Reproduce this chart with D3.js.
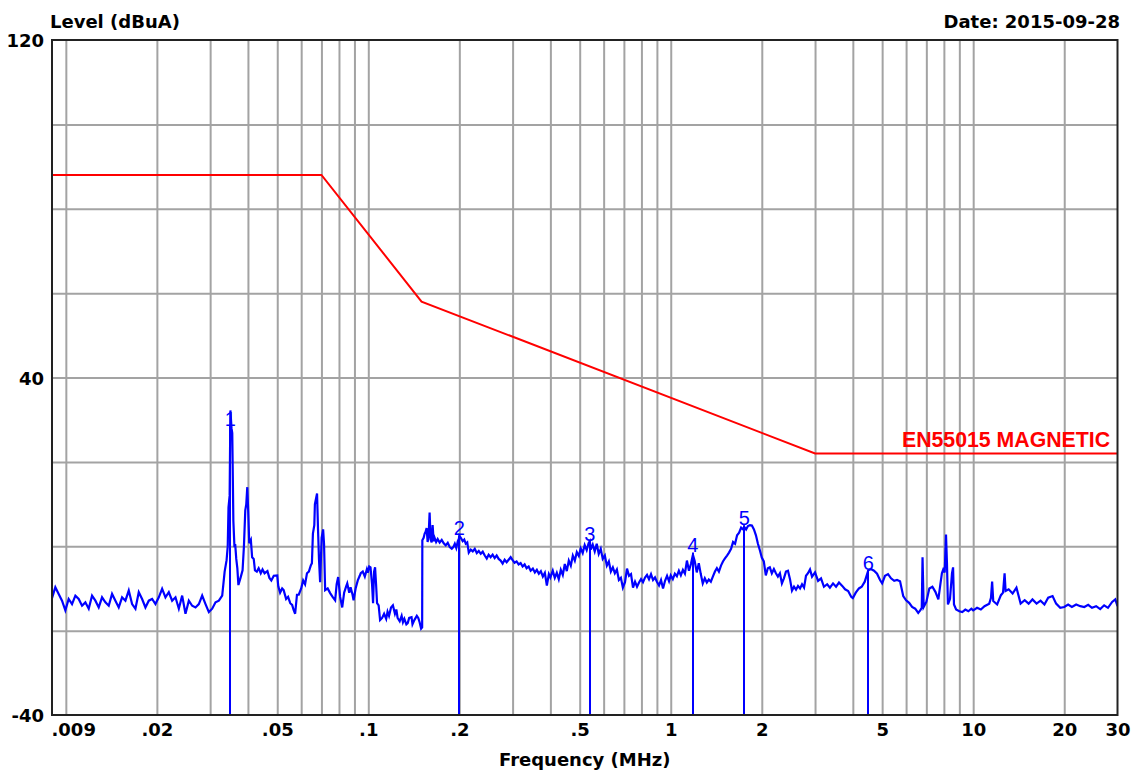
<!DOCTYPE html>
<html><head><meta charset="utf-8">
<script src="https://cdn.jsdelivr.net/npm/d3@7"></script>
<style>body{margin:0;background:#fff}svg{display:block}</style>
</head><body><svg id="c" width="1138" height="772"></svg>
<script>
// ---- data ----
const trace = [
[0.009,-12.3],[0.009232,-9.7],[0.009469,-11.3],[0.009713,-12.9],[0.009963,-15.2],[0.010219,-12.5],[0.010482,-13.7],[0.010752,-11.7],[0.011028,-12.5],[0.011312,-14.1],[0.011603,-13.3],[0.011902,-14.8],[0.012208,-11.7],[0.012522,-12.9],[0.012844,-14.5],[0.013175,-12.1],[0.013514,-13.3],[0.013862,-14.1],[0.014218,-11.3],[0.014584,-12.9],[0.014959,-14.5],[0.015344,-12.1],[0.015739,-12.9],[0.016144,-10.5],[0.01656,-13.7],[0.016986,-14.8],[0.017423,-10.9],[0.017871,-12.5],[0.018331,-14.5],[0.018803,-12.9],[0.019287,-12.5],[0.019783,-13.7],[0.020292,-12.1],[0.020814,-10.1],[0.02135,-12.1],[0.021899,-10.9],[0.022463,-12.9],[0.023041,-12.1],[0.023634,-14.8],[0.024242,-11.7],[0.024866,-16.0],[0.025506,-12.9],[0.026162,-14.1],[0.026836,-14.5],[0.027526,-13.7],[0.028235,-11.7],[0.028961,-13.7],[0.029707,-15.6],[0.030471,-14.8],[0.031255,-13.3],[0.03206,-12.9],[0.032885,-11.7],
[0.0335,-6],[0.0340,-3.3],[0.0343,0],[0.0345,9.2],[0.0348,12],[0.0350,32.2],[0.0353,28],[0.0355,26.8],[0.0358,6],[0.0361,-0.2],[0.0363,0.5],[0.0366,-3],[0.0369,-5.2],[0.0372,-9.2],[0.0378,-7.5],[0.0384,-5.7],[0.0388,0],[0.0392,8.5],[0.0395,10],[0.0398,14],[0.0401,8],[0.0404,0.7],[0.0409,1.5],[0.0413,-2.6],[0.0418,-3],[0.0422,-5.7],[0.0428,-6],[0.0434,-5.2],[0.0441,-6.4],[0.0447,-5.5],[0.0454,-6.4],[0.0464,-5.9],[0.0471,-7.5],[0.0478,-8.1],[0.0487,-7],[0.0500,-6.9],[0.0504,-9.5],[0.0511,-11],[0.0519,-10],[0.0525,-10.4],[0.0535,-12.5],[0.0543,-12],[0.0552,-13.5],[0.0560,-13.9],[0.0566,-15],[0.0573,-16],[0.0581,-11.5],[0.0589,-11.5],[0.0600,-10],[0.0609,-8.1],[0.0618,-9],[0.0627,-6.4],[0.0636,-6],[0.0646,-4.5],[0.0651,-4],[0.0656,3],[0.0663,5],[0.0666,10],[0.0677,12.5],[0.0682,4],[0.0687,-3],[0.0693,-8.5],[0.0701,2],[0.0709,4],[0.0714,0.5],[0.0720,-10.4],[0.0734,-10],[0.0748,-11.1],[0.0762,-12],[0.0777,-12.8],[0.0786,-9],[0.0795,-7.3],[0.0807,-12],[0.0820,-14.5],[0.0832,-11],[0.0845,-9.5],[0.0852,-8.8],[0.0865,-11],[0.0874,-9.7],[0.0887,-11.5],[0.0894,-12.8],[0.0908,-10],[0.0923,-8.1],[0.0937,-7],[0.0944,-6.4],[0.0959,-6],[0.0974,-7.2],[0.0989,-5.5],[0.0996,-6.3],[0.1007,-4.8],[0.1017,-5],[0.1029,-9],[0.1037,-13.5],[0.1045,-6],[0.1053,-5],[0.1061,-9],[0.1069,-13.5],[0.1082,-14],[0.1094,-17.5],[0.1111,-17],[0.1128,-16],[0.1146,-17.2],[0.1158,-15.5],[0.1171,-16.5],[0.1189,-14.5],[0.1206,-14],[0.1225,-16],[0.1238,-15],[0.1250,-17],[0.1270,-17.8],[0.1289,-16.5],[0.1302,-18],[0.1316,-17.2],[0.1336,-18.5],[0.1350,-18.2],[0.1365,-17],[0.139,-16.8],[0.140,-18.5],[0.142,-17.5],[0.1447,-16.5],[0.1463,-17],[0.1478,-18],[0.1495,-19.5],[0.1507,-19.2],
[0.1509,1.4],[0.1524,2],[0.1536,3],[0.1547,3.4],[0.1559,4.3],[0.1571,1.0],[0.1583,2.6],[0.1595,8.0],[0.1607,1.6],[0.162,0.9],[0.1632,5.0],[0.1645,1.2],[0.1657,2.0],[0.1676,1.0],[0.1696,1.7],[0.1722,0.9],[0.1749,1.5],[0.1776,0.7],[0.1803,0.2],[0.1831,0.8],[0.1859,-0.2],[0.1888,-0.6],[0.191,-0.2],[0.1932,0.6],[0.1954,-0.4],[0.1977,1.2],[0.1992,1.7],[0.2,2.5],
[0.203,1.8],[0.2052,1.2],[0.2076,1.6],[0.21,0.6],[0.2124,0.9],[0.2149,-1.5],[0.2182,-0.8],[0.2215,-1.2],[0.2249,-0.6],[0.2284,-1.6],[0.2319,-1.1],[0.2354,-1.8],[0.239,-1.3],[0.2427,-2.2],[0.2464,-2.9],[0.25,-2.0],[0.2538,-2.6],[0.2577,-2.0],[0.2617,-2.8],[0.2657,-2.2],[0.2698,-3.0],[0.2739,-3.4],[0.2781,-4.1],[0.2824,-3.2],[0.2867,-3.8],[0.2911,-3.2],[0.2956,-2.6],[0.3,-3.3],[0.3046,-3.9],[0.3093,-3.6],[0.3141,-4.3],[0.3189,-4.0],[0.3238,-4.8],[0.3288,-4.3],[0.3338,-5.2],[0.339,-4.8],[0.3442,-5.8],[0.35,-5.3],[0.3554,-6.2],[0.3608,-5.6],[0.3664,-6.5],[0.372,-5.9],[0.3777,-7.2],[0.3835,-6.3],[0.3894,-9.3],[0.3954,-6.6],[0.4,-7.4],[0.4073,-5.8],[0.4136,-7.5],[0.42,-6.3],[0.4264,-7.8],[0.433,-5.6],[0.4396,-6.8],[0.4464,-4.2],[0.4532,-5.9],[0.4602,-3.4],[0.4673,-4.6],[0.4745,-2.2],[0.4818,-3.4],[0.4892,-1.4],[0.4968,-2.3],[0.5038,-0.5],[0.5116,-1.6],[0.5194,0.3],[0.5274,-0.9],[0.5355,0.8],[0.54,1.2],[0.5437,-0.8],[0.5521,0.4],[0.5606,-1.2],[0.5692,0.6],[0.578,-1.8],[0.5869,-0.6],[0.5959,-3.0],[0.6055,-2.2],[0.6148,-4.6],[0.6243,-3.6],[0.6339,-6.0],[0.6436,-5.0],[0.6535,-6.4],[0.6636,-5.5],[0.6738,-8.0],[0.6841,-7.5],[0.6946,-9.8],[0.7059,-8.5],[0.7168,-5.3],[0.7278,-7.0],[0.739,-6.6],[0.7503,-9.8],[0.7619,-8.4],[0.7736,-9.6],[0.7855,-8.6],[0.7976,-7.8],[0.8096,-8.5],[0.8221,-7.4],[0.8347,-6.8],[0.8475,-7.8],[0.8606,-6.6],[0.8738,-8.0],[0.8872,-7.4],[0.9,-8.4],[0.9147,-9.3],[0.9288,-8.0],[0.943,-10.0],[0.9575,-8.2],[0.9723,-7.0],[0.9872,-8.3],[1.0,-6.9],[1.016,-7.8],[1.032,-6.5],[1.048,-7.1],[1.064,-5.8],[1.08,-6.9],[1.097,-5.6],[1.114,-6.5],[1.131,-3.4],[1.149,-5.8],[1.166,-4.2],[1.184,-2.0],[1.2,-3.5],[1.219,-6.2],[1.238,-4.0],[1.257,-6.6],[1.276,-8.8],[1.296,-7.6],[1.316,-8.6],[1.336,-7.9],[1.357,-8.4],[1.378,-7.2],[1.4,-6.0],[1.421,-5.2],[1.443,-6.0],[1.466,-4.6],[1.488,-3.6],[1.511,-2.9],[1.535,-2.2],[1.558,-1.5],[1.583,-0.6],[1.607,1.0],[1.632,0.6],[1.657,2.6],[1.683,3.2],[1.709,4.4],[1.735,4.0],[1.75,4.6],[1.775,4.0],[1.8,4.8],[1.827,5.0],[1.855,4.9],[1.884,4.0],[1.913,2.6],[1.942,0.6],[1.972,-1.0],[2.0,-2.7],[2.031,-3.6],[2.062,-6.9],[2.094,-5.2],[2.126,-5.0],[2.159,-6.4],[2.193,-5.4],[2.227,-6.4],[2.261,-7.2],[2.296,-6.4],[2.331,-8.8],[2.367,-7.6],[2.404,-6.0],[2.441,-5.8],[2.479,-7.8],[2.517,-10.5],[2.556,-9.6],[2.595,-10.3],[2.635,-9.4],[2.676,-10.0],[2.717,-9.0],[2.759,-9.8],[2.8,-7.0],[2.843,-6.4],[2.887,-5.5],[2.932,-7.2],[3.0,-6.2],[3.07,-8.2],[3.14,-7.6],[3.21,-9.6],[3.29,-9.0],[3.36,-9.8],[3.44,-8.8],[3.52,-9.6],[3.6,-8.6],[3.69,-9.4],[3.77,-10.2],[3.86,-10.6],[3.95,-12.0],[4.0,-12.3],[4.09,-11.0],[4.19,-10.0],[4.28,-9.6],[4.38,-8.4],[4.5,-5.7],[4.59,-5.4],[4.7,-5.8],[4.81,-6.5],[4.92,-8.0],[5.0,-8.8],[5.11,-7.0],[5.23,-6.6],[5.35,-7.6],[5.48,-8.2],[5.6,-8.0],[5.73,-8.3],[5.87,-11.8],[6.0,-12.8],[6.14,-13.4],[6.28,-14.4],[6.43,-14.8],[6.58,-15.8],[6.68,-15.2],[6.76,-14.6],[6.8,-2.6],[6.86,-14.4],[7.0,-13.2],[7.16,-10.0],[7.33,-9.6],[7.5,-10.8],[7.67,-12.6],[7.79,-9.0],[7.88,-6.4],[7.96,-5.5],[8.05,-6.2],[8.13,2.8],[8.19,-4.0],[8.25,-13.8],[8.38,-12.5],[8.51,-6.4],[8.58,-5.0],[8.64,-13.8],[8.78,-15.0],[9.0,-15.4],[9.2,-15.6],[9.42,-15.0],[9.64,-15.4],[9.86,-14.8],[10,-15.2],[10.3,-14.6],[10.6,-15.0],[10.9,-14.2],[11.3,-13.6],[11.45,-12.2],[11.55,-8.4],[11.65,-13.0],[12,-13.8],[12.35,-11.6],[12.55,-11.0],[12.7,-6.4],[12.8,-10.6],[13.1,-10.2],[13.5,-11.2],[13.9,-9.8],[14.35,-13.6],[14.8,-12.8],[15.25,-13.6],[15.7,-12.6],[16.2,-13.6],[16.7,-12.9],[17.2,-13.8],[17.7,-12.2],[18.3,-11.8],[18.8,-13.6],[19.4,-14.6],[20,-14.4],[20.6,-13.8],[21.2,-14.4],[21.9,-13.8],[22.6,-14.2],[23.3,-14.4],[24,-13.9],[24.7,-14.6],[25.5,-14.2],[26.3,-14.9],[27.1,-14.0],[27.9,-14.6],[28.8,-13.2],[29.5,-12.6],[30,-14.2]
];
const limitFreq  = [0.009, 0.07, 0.15, 3, 30];
const limitLevel = [88, 88, 58, 22, 22];
const limitName  = "EN55015 MAGNETIC";
const markerNames = ["1","2","3","4","5","6"];
const markerFreq  = [0.035, 0.2, 0.54, 1.184, 1.75, 4.5];
const markerLevel = [28.5, 2.5, 1.2, -1.5, 5.0, -5.7];
const xGrid = [0.01,0.02,0.03,0.04,0.05,0.06,0.07,0.08,0.09,0.1,0.2,0.3,0.4,0.5,0.6,0.7,0.8,0.9,1,2,3,4,5,6,7,8,9,10,20];
const yGrid = [-20,0,20,40,60,80,100];
const xTicks = [0.009,0.02,0.05,0.1,0.2,0.5,1,2,5,10,20,30];
const xTickLabels = [".009",".02",".05",".1",".2",".5","1","2","5","10","20","30"];
const yTicks = [120,40,-40];
const yTickLabels = ["120","40","-40"];
const yTitle = "Level (dBuA)";
const xTitle = "Frequency (MHz)";
const dateText = "Date: 2015-09-28";

// ---- chart ----
const svg = d3.select("#c");
const L = 52, R = 1117.5, T = 40, B = 715;
const x = d3.scaleLog().domain([0.009, 30]).range([L, R]);
const y = d3.scaleLinear().domain([-40, 120]).range([B, T]);
const FONT = "'DejaVu Sans', sans-serif";
const GRID = "#a3a3a3";

svg.append("rect").attr("width",1138).attr("height",772).attr("fill","#fff");

// grid
const gx = svg.append("g").attr("transform",`translate(0,${B})`)
  .call(d3.axisBottom(x).tickValues(xGrid).tickSize(-(B-T)).tickFormat(""));
gx.select(".domain").remove();
gx.selectAll("line").attr("stroke",GRID).attr("stroke-width",2);
const gy = svg.append("g").attr("transform",`translate(${L},0)`)
  .call(d3.axisLeft(y).tickValues(yGrid).tickSize(-(R-L)).tickFormat(""));
gy.select(".domain").remove();
gy.selectAll("line").attr("stroke",GRID).attr("stroke-width",2);

// clip
svg.append("clipPath").attr("id","pc").append("rect").attr("x",L).attr("y",T).attr("width",R-L).attr("height",B-T);
const plot = svg.append("g").attr("clip-path","url(#pc)");

// limit line
const limitPts = limitFreq.map((f,i)=>[f,limitLevel[i]]);
plot.append("path").datum(limitPts)
  .attr("d", d3.line().x(d=>x(d[0])).y(d=>y(d[1])))
  .attr("fill","none").attr("stroke","#ff0000").attr("stroke-width",2);

// markers
markerFreq.forEach((f,i)=>{
  plot.append("line").attr("x1",Math.round(x(f))).attr("x2",Math.round(x(f))).attr("y1",y(markerLevel[i])).attr("y2",y(-40))
    .attr("stroke","#0000ff").attr("stroke-width",2);
});

// trace
plot.append("path").datum(trace)
  .attr("d", d3.line().x(d=>x(d[0])).y(d=>y(d[1])))
  .attr("fill","none").attr("stroke","#0000ff").attr("stroke-width",2.2).attr("stroke-linejoin","miter");

// marker labels
markerFreq.forEach((f,i)=>{
  svg.append("text").attr("x",x(f)).attr("y",y(markerLevel[i])-0.5)
    .attr("text-anchor","middle").attr("font-family","'Liberation Sans', Arial, sans-serif")
    .attr("font-size",20).attr("fill","#0000ff").text(markerNames[i]);
});

// limit label
svg.append("text").attr("x",1110).attr("y",y(limitLevel[4])-6)
  .attr("text-anchor","end").attr("font-family","'Liberation Sans', Arial, sans-serif")
  .attr("font-weight","bold").attr("font-size",22).attr("fill","#ff0000")
  .attr("textLength",208).attr("lengthAdjust","spacingAndGlyphs").text(limitName);

// frame
svg.append("rect").attr("x",L).attr("y",T).attr("width",R-L).attr("height",B-T)
  .attr("fill","none").attr("stroke","#222").attr("stroke-width",2);

// axes labels
const ax = svg.append("g").attr("transform",`translate(0,${B})`)
  .call(d3.axisBottom(x).tickValues(xTicks).tickFormat((d,i)=>xTickLabels[i]).tickSize(0).tickPadding(8));
ax.select(".domain").remove();
ax.selectAll("text").attr("font-family",FONT).attr("font-weight","bold").attr("font-size",18).attr("fill","#000");
ax.selectAll("text").filter((d,i)=>i===0).attr("text-anchor","start").attr("x",-1);

const ay = svg.append("g").attr("transform",`translate(${L},0)`)
  .call(d3.axisLeft(y).tickValues(yTicks).tickFormat((d,i)=>yTickLabels[i]).tickSize(0).tickPadding(8));
ay.select(".domain").remove();
ay.selectAll("text").attr("font-family",FONT).attr("font-weight","bold").attr("font-size",18).attr("fill","#000").attr("dy","0.38em");

svg.append("text").attr("x",50).attr("y",28).attr("font-family",FONT).attr("font-weight","bold").attr("font-size",18).text(yTitle);
svg.append("text").attr("x",1120).attr("y",28).attr("text-anchor","end").attr("font-family",FONT).attr("font-weight","bold").attr("font-size",18).text(dateText);
svg.append("text").attr("x",(L+R)/2).attr("y",766).attr("text-anchor","middle").attr("font-family",FONT).attr("font-weight","bold").attr("font-size",18).text(xTitle);
</script>
</body></html>
